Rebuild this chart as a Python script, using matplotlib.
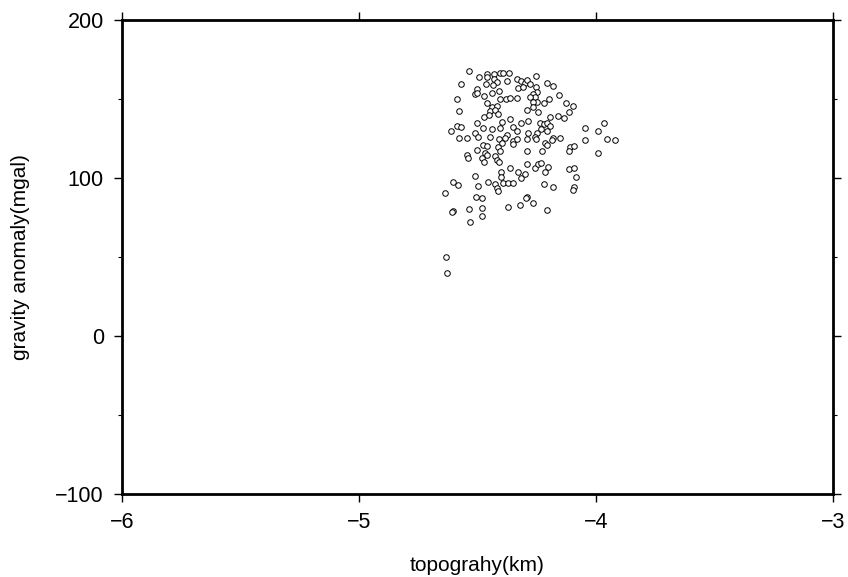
import matplotlib
matplotlib.use("Agg")
import matplotlib.pyplot as plt
from matplotlib.ticker import MultipleLocator

plt.rcParams['font.family'] = ['Liberation Sans', 'DejaVu Sans']

# topography (km) and gravity anomaly (mgal)
topo = [
    -4.536, -4.494, -4.460, -4.460, -4.430, -4.405, -4.392, -4.367, -4.430, -4.418,
    -4.376, -4.333, -4.316, -4.300, -4.291, -4.570, -4.464, -4.435, -4.502, -4.409,
    -4.439, -4.329, -4.308, -4.511, -4.502, -4.473, -4.405, -4.380, -4.363, -4.333,
    -4.586, -4.460, -4.439, -4.418, -4.578, -4.447, -4.426, -4.414, -4.473, -4.451,
    -4.363, -4.397, -4.316, -4.287, -4.612, -4.586, -4.570, -4.502, -4.477, -4.439,
    -4.405, -4.511, -4.350, -4.333, -4.287, -4.376, -4.578, -4.544, -4.498, -4.447,
    -4.409, -4.384, -4.350, -4.333, -4.291,
    -4.253, -4.278, -4.253, -4.207, -4.181, -4.249, -4.266, -4.257, -4.278, -4.156,
    -4.198, -4.219, -4.249, -4.266, -4.266, -4.127, -4.097, -4.114, -4.291, -4.245,
    -4.194, -4.160, -4.135, -4.236, -4.219, -4.207, -4.194, -4.232, -4.207, -4.249,
    -3.966, -3.992, -4.046, -4.181, -4.152, -4.046, -3.954, -3.920, -4.257,
    -4.397, -4.350, -4.502, -4.477, -4.460, -4.468, -4.414, -4.405, -4.291, -4.544,
    -4.540, -4.481, -4.460, -4.426, -4.473, -4.418, -4.409, -4.363, -4.401, -4.401,
    -4.329, -4.316, -4.300, -4.291, -4.511, -4.603, -4.582, -4.498, -4.456, -4.426,
    -4.418, -4.414, -4.392, -4.371, -4.350, -4.637, -4.506, -4.481, -4.291, -4.603,
    -4.608, -4.536, -4.481, -4.371, -4.321,
    -4.253, -4.215, -4.186, -4.228, -4.207, -4.110, -4.093, -4.114, -3.992, -4.257,
    -4.245, -4.232, -4.203, -4.215, -4.114, -4.093, -4.084, -4.219, -4.181, -4.093,
    -4.097, -4.295, -4.266, -4.207,
    -4.481, -4.532, -4.633, -4.629,
]
gravity = [
    167.7, 163.9, 165.8, 163.9, 165.8, 166.5, 166.5, 166.5, 162.7, 160.8,
    161.4, 162.7, 161.4, 160.1, 162.0, 159.5, 159.5, 158.9, 156.3, 155.1,
    153.8, 157.0, 157.6, 153.2, 153.8, 151.9, 150.0, 150.0, 150.6, 150.6,
    150.0, 147.5, 144.9, 145.6, 142.4, 142.4, 143.0, 140.5, 138.6, 139.9,
    137.3, 135.4, 134.8, 136.1, 129.7, 132.9, 132.3, 134.8, 131.6, 131.0,
    131.6, 128.5, 132.3, 129.7, 128.5, 127.2, 125.3, 125.3, 125.9, 125.9,
    124.7, 125.3, 123.4, 124.7, 124.7,
    164.6, 159.5, 157.6, 160.1, 158.2, 154.4, 153.2, 151.3, 151.3, 152.5,
    150.0, 147.5, 148.1, 148.1, 144.9, 147.5, 145.6, 141.8, 143.0, 141.8,
    138.6, 139.2, 138.0, 134.8, 134.2, 134.8, 132.9, 131.0, 129.7, 128.5,
    134.8, 129.7, 131.6, 125.3, 125.3, 124.1, 124.7, 124.1, 125.9,
    122.2, 121.5, 117.7, 120.9, 120.3, 115.8, 119.6, 117.1, 117.1, 114.6,
    112.7, 112.7, 114.6, 113.9, 110.1, 111.4, 110.1, 106.3, 103.8, 100.6,
    103.8, 100.0, 102.5, 108.9, 101.3, 97.5, 95.6, 94.9, 97.5, 96.2,
    93.7, 91.8, 96.8, 96.8, 96.8, 90.5, 88.0, 87.3, 88.0, 79.1,
    78.5, 80.4, 81.0, 81.6, 82.9,
    124.7, 122.2, 124.1, 117.1, 120.9, 119.6, 120.3, 117.1, 115.8, 106.3,
    108.9, 109.5, 107.0, 103.8, 105.7, 106.3, 100.6, 96.2, 94.3, 94.3,
    92.4, 87.3, 84.2, 79.7,
    75.9, 72.2, 50.0, 39.9,
]

x_ticks = [-6, -5, -4, -3]
y_ticks = [-100, 0, 100, 200]
x_labels = ['\u22126', '\u22125', '\u22124', '\u22123']
y_labels = ['\u2212100', '0', '100', '200']

fig = plt.figure(figsize=(8.48, 5.77), dpi=100)
ax = fig.add_axes([0.1439, 0.1438, 0.8384, 0.8215])

ax.scatter(topo, gravity, s=16, facecolors='white', edgecolors='black',
           linewidths=0.7, zorder=3)

ax.set_xlim(-6, -3)
ax.set_ylim(-100, 200)
ax.set_xticks(x_ticks)
ax.set_xticklabels(x_labels)
ax.set_yticks(y_ticks)
ax.set_yticklabels(y_labels)
ax.yaxis.set_minor_locator(MultipleLocator(50))

for sp in ax.spines.values():
    sp.set_linewidth(2.0)

ax.tick_params(which='major', direction='out', length=6, width=1.0,
               labelsize=15.5, top=True, right=True, pad=7)
ax.tick_params(which='minor', direction='out', length=3, width=0.8,
               top=True, right=True)

ax.set_xlabel('topograhy(km)', fontsize=15)
ax.set_ylabel('gravity anomaly(mgal)', fontsize=15)
ax.xaxis.set_label_coords(0.5, -0.13)
ax.yaxis.set_label_coords(-0.13, 0.5)

fig.savefig('out.png', dpi=100)
